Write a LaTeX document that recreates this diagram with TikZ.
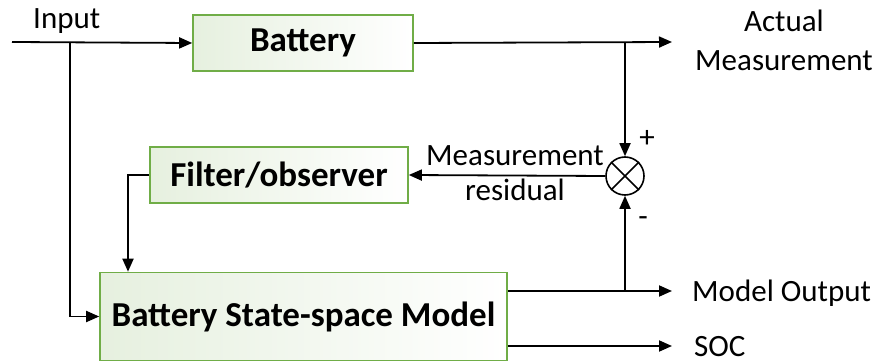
\documentclass[tikz,border=0pt]{standalone}
\usepackage{fontspec}
\setmainfont{Carlito}
\usetikzlibrary{arrows.meta,calc}
\definecolor{boxgreen}{HTML}{70AD47}
\definecolor{boxfill}{HTML}{E6F0DF}
\tikzset{
  blockbox/.style={draw=boxgreen, line width=1.6pt, shading=axis, shading angle=-45,
    left color=boxfill, right color=white, font=\fontsize{35}{40}\selectfont\bfseries,
    inner sep=0pt},
  wire/.style={line width=1.8pt},
  arr/.style={wire, -{Triangle[length=13pt,width=11pt]}},
  lbl/.style={font=\fontsize{31}{36}\selectfont, inner sep=0pt},
  sumnode/.style={circle, draw, line width=1.6pt, minimum size=38pt, inner sep=0pt, fill=white},
}
\begin{document}
\begin{tikzpicture}[x=1pt,y=-1pt]
  \useasboundingbox (0,0) rectangle (877,363);

  % blocks
  \node[blockbox, minimum width=220pt, minimum height=56pt] (bat) at (303,43) {Battery};
  \node[blockbox, minimum width=258pt, minimum height=56pt] (filt) at (279,175) {Filter/observer};
  \node[blockbox, minimum width=407pt, minimum height=88pt] (model) at (303.5,316.5) {Battery State-space Model};
  \node[sumnode] (sum) at (625,176) {};
  \draw[line width=1.6pt] (sum.north west) -- (sum.south east)
                          (sum.north east) -- (sum.south west);

  % free ends
  \coordinate (in) at (12,42);
  \coordinate (split) at (70,42);
  \coordinate (actual) at (672,42);
  \coordinate (tap) at (625,42);
  \coordinate (mout) at (672,291);
  \coordinate (mtap) at (625,291);
  \coordinate (soc) at (672,346);
  \coordinate (fcorner) at (128,175);

  % labels
  \node[lbl, anchor=base west] (inlbl) at (33,29) {Input};
  \node[lbl, anchor=base] (actlbl1) at (784,32) {Actual};
  \node[lbl, anchor=base] (actlbl2) at (784,71) {Measurement};
  \node[lbl, anchor=base west] (moutlbl) at (692,301) {Model Output};
  \node[lbl, anchor=base west] (soclbl) at (694,356) {SOC};
  \node[lbl, anchor=base] (reslbl1) at (515,166) {Measurement};
  \node[lbl, anchor=base] (reslbl2) at (515,201) {residual};
  \node[lbl, anchor=base] (plus) at (647,148) {+};
  \node[lbl, anchor=base] (minus) at (643,227) {-};

  % connectors
  \draw[arr] (in) -- (bat.west);
  \draw[arr] (split) |- (model.west);
  \draw[arr] (bat.east) -- (actual);
  \draw[arr] (tap) -- (sum.north);
  \draw[arr] (sum.west) -- (filt.east);
  \draw[arr] (filt.west) -- (fcorner) -- (fcorner |- model.north);
  \draw[arr] (model.east |- mout) -- (mout);
  \draw[arr] (mtap) -- (sum.south);
  \draw[arr] (model.east |- soc) -- (soc);
\end{tikzpicture}
\end{document}
